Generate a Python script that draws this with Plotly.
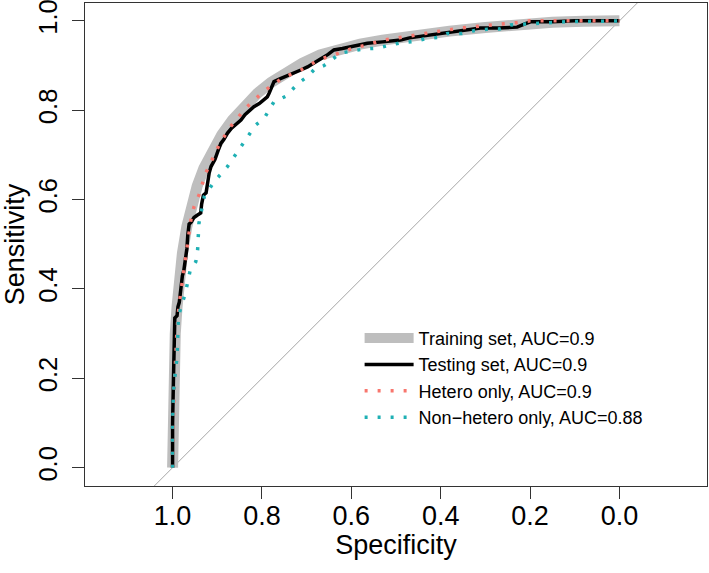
import plotly.graph_objects as go

# ---- data (specificity, sensitivity) ----
train_spec = [1.0, 0.999, 0.997, 0.994, 0.99, 0.985, 0.978, 0.968, 0.957, 0.945, 0.93, 0.911, 0.89, 0.866,
              0.84, 0.81, 0.78, 0.745, 0.71, 0.67, 0.63, 0.58, 0.53, 0.49, 0.44, 0.38, 0.30, 0.22, 0.15, 0.08, 0.0]
train_sens = [0.0, 0.10, 0.20, 0.30, 0.36, 0.42, 0.48, 0.54, 0.59, 0.63, 0.67, 0.71, 0.745, 0.778,
              0.81, 0.838, 0.862, 0.885, 0.905, 0.924, 0.937, 0.948, 0.957, 0.963, 0.97, 0.977, 0.985, 0.993, 0.997, 0.999, 1.0]

test_spec = [1.0, 1.0, 0.998, 0.997, 0.995, 0.99, 0.988, 0.985, 0.983, 0.981, 0.978, 0.975, 0.972, 0.968, 0.966,
             0.963, 0.958, 0.952, 0.945, 0.937, 0.935, 0.931, 0.925, 0.922, 0.918, 0.914, 0.905, 0.898, 0.892,
             0.885, 0.877, 0.868, 0.857, 0.847, 0.838, 0.828, 0.818, 0.806, 0.795, 0.788, 0.784, 0.779, 0.773,
             0.76, 0.745, 0.728, 0.713, 0.698, 0.683, 0.668, 0.652, 0.639, 0.62, 0.6, 0.579, 0.564, 0.53, 0.49,
             0.47, 0.44, 0.40, 0.36, 0.33, 0.311, 0.27, 0.229, 0.21, 0.199, 0.15, 0.10, 0.0]
test_sens = [0.0, 0.10, 0.20, 0.30, 0.335, 0.34, 0.36, 0.37, 0.39, 0.40, 0.43, 0.44, 0.46, 0.49, 0.52,
             0.545, 0.55, 0.56, 0.565, 0.57, 0.59, 0.61, 0.615, 0.64, 0.66, 0.674, 0.69, 0.71, 0.726,
             0.735, 0.749, 0.76, 0.77, 0.778, 0.79, 0.80, 0.808, 0.815, 0.823, 0.83, 0.838, 0.85, 0.864,
             0.87, 0.876, 0.883, 0.89, 0.897, 0.905, 0.915, 0.925, 0.935, 0.938, 0.942, 0.946, 0.95, 0.953, 0.957,
             0.962, 0.966, 0.972, 0.976, 0.98, 0.984, 0.984, 0.986, 0.994, 0.998, 0.998, 1.0, 1.0]

het_spec = [1.0, 0.999, 0.997, 0.993, 0.990, 0.985, 0.981, 0.976, 0.972, 0.966, 0.961, 0.958, 0.952, 0.941,
            0.926, 0.912, 0.896, 0.873, 0.855, 0.836, 0.815, 0.791, 0.754, 0.713, 0.672, 0.628, 0.601, 0.527,
            0.475, 0.415, 0.355, 0.303, 0.273, 0.23, 0.2, 0.0]
het_sens = [0.0, 0.08, 0.16, 0.25, 0.31, 0.368, 0.398, 0.43, 0.455, 0.51, 0.536, 0.562, 0.584, 0.61,
            0.659, 0.69, 0.722, 0.76, 0.783, 0.805, 0.825, 0.846, 0.872, 0.89, 0.913, 0.928, 0.937, 0.957,
            0.966, 0.975, 0.984, 0.989, 0.991, 0.996, 1.0, 1.0]

non_spec = [1.0, 1.0, 0.998, 0.996, 0.99, 0.989, 0.987, 0.98, 0.972, 0.961, 0.948, 0.944, 0.943, 0.941, 0.929,
            0.907, 0.877, 0.84, 0.814, 0.795, 0.773, 0.747, 0.717, 0.698, 0.683, 0.661, 0.624, 0.572, 0.542,
            0.516, 0.49, 0.46, 0.434, 0.404, 0.385, 0.352, 0.326, 0.296, 0.268, 0.244, 0.214, 0.184, 0.12, 0.0]
non_sens = [0.0, 0.10, 0.163, 0.193, 0.248, 0.276, 0.338, 0.364, 0.388, 0.44, 0.461, 0.487, 0.517, 0.547, 0.607,
            0.64, 0.674, 0.73, 0.767, 0.782, 0.819, 0.831, 0.862, 0.875, 0.891, 0.9, 0.928, 0.937, 0.939,
            0.945, 0.951, 0.954, 0.96, 0.963, 0.972, 0.972, 0.978, 0.981, 0.982, 0.991, 0.993, 0.995, 0.998, 1.0]

names = ["Training set, AUC=0.9", "Testing set, AUC=0.9", "Hetero only, AUC=0.9", "Non\u2212hetero only, AUC=0.88"]
tick_vals = [0.0, 0.2, 0.4, 0.6, 0.8, 1.0]
tick_text = ["0.0", "0.2", "0.4", "0.6", "0.8", "1.0"]
X_RANGE = [1.196, -0.196]
Y_RANGE = [-0.041, 1.04]

FONT = "Liberation Sans, Arial, sans-serif"

fig = go.Figure()
# diagonal reference line sens = 1 - spec across the whole plot
fig.add_trace(go.Scatter(x=X_RANGE, y=[1 - v for v in X_RANGE], mode="lines",
                         line=dict(color="#A6A6A6", width=1), showlegend=False, hoverinfo="skip"))
fig.add_trace(go.Scatter(x=train_spec, y=train_sens, mode="lines", name=names[0],
                         line=dict(color="#BEBEBE", width=11)))
fig.add_trace(go.Scatter(x=test_spec, y=test_sens, mode="lines", name=names[1],
                         line=dict(color="black", width=3.5)))
fig.add_trace(go.Scatter(x=het_spec, y=het_sens, mode="lines", name=names[2],
                         line=dict(color="#F8766D", width=3.5, dash="3px,10px")))
fig.add_trace(go.Scatter(x=non_spec, y=non_sens, mode="lines", name=names[3],
                         line=dict(color="#1FB0B4", width=3.5, dash="3px,10px")))

axis_common = dict(
    tickvals=tick_vals, ticktext=tick_text, ticks="outside", ticklen=12, tickwidth=1,
    tickcolor="#333333", showline=True, linecolor="#333333", linewidth=1.2, mirror=True,
    showgrid=False, zeroline=False,
    ticklabeloverflow="allow", automargin=False,
)
fig.update_xaxes(range=X_RANGE, tickfont=dict(family=FONT, size=27, color="black"),
                 title=dict(text="Specificity", font=dict(family=FONT, size=27, color="black"), standoff=4),
                 ticklabelstandoff=-7, **axis_common)
fig.update_yaxes(range=Y_RANGE, tickangle=-90, tickfont=dict(family=FONT, size=25.5, color="black"),
                 title=dict(text="Sensitivity", font=dict(family=FONT, size=27, color="black"), standoff=15),
                 ticklabelstandoff=5, **axis_common)

fig.update_layout(
    width=709, height=573, margin=dict(l=85, r=2, t=3, b=87, autoexpand=False),
    paper_bgcolor="white", plot_bgcolor="white",
    showlegend=True,
    legend=dict(x=0.4415, y=0.344, xanchor="left", yanchor="top", bgcolor="rgba(0,0,0,0)",
                font=dict(family=FONT, size=18, color="black"), itemwidth=49, traceorder="normal"),
)

fig.write_html("out.html", config={"displayModeBar": False},
               post_script="document.body.style.margin='0';")
